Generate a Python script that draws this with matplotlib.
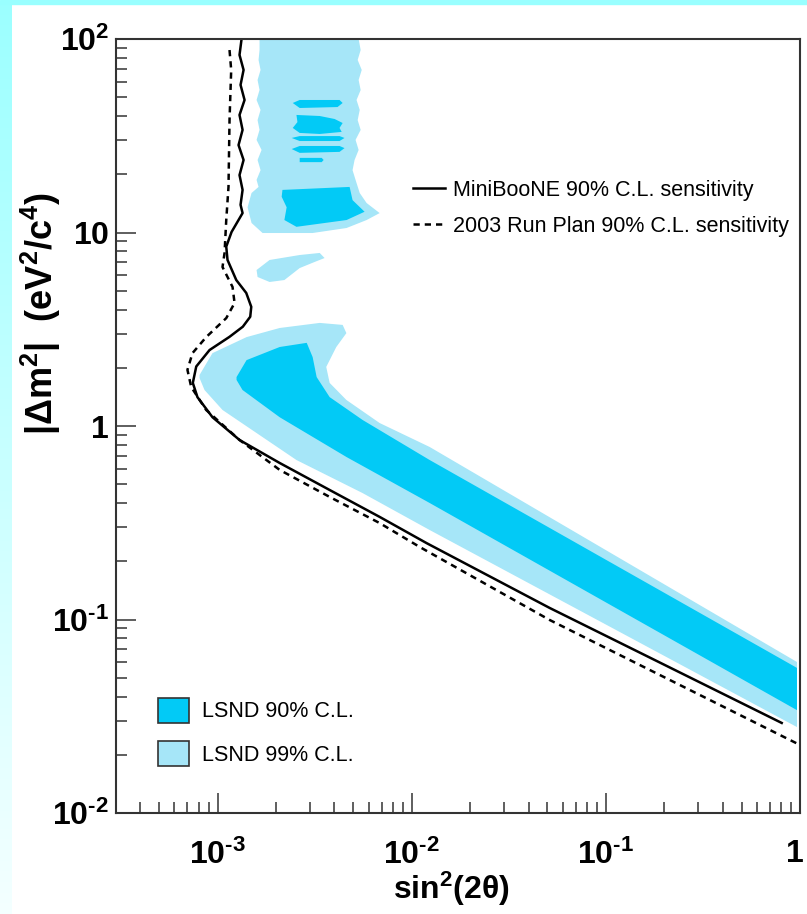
import numpy as np
import matplotlib.pyplot as plt
import matplotlib.transforms as mtransforms
from matplotlib.colors import LinearSegmentedColormap
from matplotlib.lines import Line2D
from matplotlib.patches import Patch, Rectangle
from matplotlib.ticker import LogLocator, NullFormatter

plt.rcParams['font.family'] = ['Liberation Sans', 'DejaVu Sans']
plt.rcParams['mathtext.fontset'] = 'custom'
plt.rcParams['mathtext.rm'] = 'Liberation Sans'
plt.rcParams['mathtext.bf'] = 'Liberation Sans:bold'
plt.rcParams['mathtext.it'] = 'Liberation Sans:italic'
plt.rcParams['mathtext.default'] = 'bf'

# MiniBooNE 90% C.L. sensitivity (sin^2 2theta, dm^2)
mb_x = [1.330e-3, 1.298e-3, 1.362e-3, 1.314e-3, 1.378e-3, 1.298e-3, 1.346e-3,
        1.283e-3, 1.362e-3, 1.298e-3, 1.346e-3, 1.314e-3, 1.346e-3, 1.181e-3,
        1.109e-3, 1.126e-3, 1.249e-3, 1.406e-3, 1.492e-3, 1.474e-3, 1.350e-3,
        1.153e-3, 9.10e-4, 7.77e-4, 7.46e-4, 7.88e-4, 9.42e-4, 1.30e-3,
        2.09e-3, 3.78e-3, 6.84e-3, 1.195e-2, 5.14e-2, 0.805]
mb_y = [100, 82.7, 69.2, 57.9, 48.4, 40.5, 33.9, 28.3, 23.7, 19.8, 16.6, 13.9,
        12.6, 10.06, 8.45, 7.21, 5.68, 4.87, 4.13, 3.67, 3.26, 2.89, 2.47, 2.03,
        1.67, 1.41, 1.11, 0.846, 0.644, 0.467, 0.339, 0.248, 0.1147, 0.0292]

# 2003 run plan 90% C.L. sensitivity
plan_x = [1.153e-3, 1.176e-3, 1.153e-3, 1.139e-3, 1.109e-3, 1.087e-3, 1.061e-3,
          1.195e-3, 1.224e-3, 1.109e-3, 8.74e-4, 7.43e-4, 7.00e-4, 7.32e-4,
          8.74e-4, 1.30e-3, 2.09e-3, 3.78e-3, 6.84e-3, 1.10e-2, 5.14e-2, 1.0]
plan_y = [87.7, 69.2, 38.1, 17.2, 11.6, 7.84, 6.63, 5.23, 4.32, 3.61, 2.88,
          2.38, 1.95, 1.59, 1.21, 0.846, 0.593, 0.430, 0.315, 0.237, 0.0994,
          0.02246]

# LSND 99% C.L. allowed regions
lsnd99_band_x = [8.08e-4, 9.42e-4, 1.411e-3, 2.09e-3, 3.36e-3, 4.41e-3, 4.61e-3,
                 4.09e-3, 3.63e-3, 3.78e-3, 4.61e-3, 6.84e-3, 1.238e-2, 0.965,
                 0.965, 1.238e-2, 5.59e-3, 2.55e-3, 1.061e-3, 8.57e-4, 8.08e-4]
lsnd99_band_y = [1.835, 2.38, 2.88, 3.21, 3.41, 3.33, 3.02, 2.56, 2.02, 1.67,
                 1.363, 1.036, 0.779, 0.0603, 0.0278, 0.290, 0.450, 0.667, 1.21,
                 1.535, 1.77]

lsnd99_island_x = [1.589e-3, 1.854e-3, 2.65e-3, 3.36e-3, 3.56e-3, 3.16e-3,
                   2.65e-3, 2.21e-3, 1.854e-3, 1.608e-3]
lsnd99_island_y = [6.40, 7.21, 7.65, 7.84, 7.38, 7.04, 6.55, 5.68, 5.55, 5.89]

lsnd99_high_x = [1.646e-3, 5.33e-3, 5.46e-3, 5.27e-3, 5.53e-3, 5.33e-3, 5.46e-3,
                 5.20e-3, 5.40e-3, 5.27e-3, 5.46e-3, 5.14e-3, 5.33e-3, 5.08e-3,
                 4.96e-3, 5.14e-3, 5.40e-3, 5.86e-3, 6.84e-3, 5.86e-3, 4.62e-3,
                 3.09e-3, 1.706e-3, 1.497e-3, 1.428e-3, 1.497e-3, 1.627e-3,
                 1.589e-3, 1.666e-3, 1.608e-3, 1.686e-3, 1.589e-3, 1.646e-3,
                 1.608e-3, 1.666e-3, 1.589e-3, 1.646e-3, 1.608e-3, 1.666e-3,
                 1.627e-3, 1.646e-3]
lsnd99_high_y = [100, 100, 87.7, 77.9, 69.2, 61.4, 54.5, 48.4, 43.0, 38.1, 33.9,
                 30.1, 26.7, 23.7, 21.0, 18.7, 16.0, 14.2, 12.6, 11.6, 10.55,
                 9.94, 9.94, 11.2, 13.5, 16.0, 17.2, 18.7, 21.0, 23.7, 26.7,
                 30.1, 33.9, 38.1, 43.0, 48.4, 54.5, 61.4, 69.2, 77.9, 87.7]

# LSND 90% C.L. allowed regions
lsnd90_band_x = [1.253e-3, 1.411e-3, 2.09e-3, 2.88e-3, 3.09e-3, 3.24e-3, 3.78e-3,
                 5.59e-3, 1.238e-2, 0.965, 0.965, 1.238e-2, 4.62e-3, 2.09e-3,
                 1.345e-3, 1.253e-3]
lsnd90_band_y = [1.79, 2.19, 2.56, 2.69, 2.27, 1.79, 1.41, 1.074, 0.667, 0.0562,
                 0.0340, 0.400, 0.691, 1.11, 1.535, 1.73]

lsnd90_blob_x = [2.16e-3, 4.79e-3, 4.96e-3, 5.72e-3, 4.62e-3, 2.55e-3, 2.21e-3,
                 2.27e-3, 2.14e-3]
lsnd90_blob_y = [16.6, 17.2, 14.7, 12.8, 11.6, 10.7, 11.6, 13.5, 15.3]

lsnd90_strips = [
    ([2.44e-3, 2.65e-3, 4.25e-3, 4.41e-3, 4.15e-3, 2.65e-3],
     [46.7, 48.4, 48.4, 46.7, 44.5, 44.0]),
    ([2.55e-3, 3.36e-3, 4.01e-3, 4.41e-3, 4.25e-3, 4.36e-3, 3.36e-3, 2.65e-3,
      2.44e-3, 2.58e-3],
     [40.5, 40.0, 38.6, 36.8, 34.7, 33.1, 32.3, 32.7, 34.7, 37.2]),
    ([2.41e-3, 2.65e-3, 4.25e-3, 4.51e-3, 4.25e-3, 2.65e-3],
     [30.8, 31.5, 31.5, 30.8, 29.7, 29.7]),
    ([2.41e-3, 2.65e-3, 4.25e-3, 4.51e-3, 4.25e-3, 2.65e-3],
     [27.0, 28.0, 28.0, 27.3, 26.1, 25.8]),
    ([2.65e-3, 3.44e-3, 3.52e-3, 3.44e-3, 2.65e-3],
     [24.3, 24.3, 23.7, 23.1, 23.1]),
]

x_ticks = [1e-3, 1e-2, 1e-1, 1]
x_ticklabels = [r'$10^{‐3}$', r'$10^{‐2}$', r'$10^{‐1}$', r'$1$']
y_ticks = [1e-2, 1e-1, 1, 10, 100]
y_ticklabels = [r'$10^{‐2}$', r'$10^{‐1}$', r'$1$', r'$10$', r'$10^{2}$']

c90 = '#02CAF6'
c99 = '#A6E6F8'

fig = plt.figure(figsize=(8.07, 9.14), dpi=100)
fig.patch.set_facecolor('white')

# slide decoration: cyan strip on top, fading strip on the left
fig.patches.append(Rectangle((0, 1 - 4 / 914), 1, 4 / 914, transform=fig.transFigure,
                             color='#99FFFF', zorder=0))
side = fig.add_axes([0, 0, 12 / 807, 1 - 4 / 914])
side.imshow(np.linspace(0, 1, 256)[:, None], aspect='auto',
            cmap=LinearSegmentedColormap.from_list('side', ['#9CFFFF', '#F4FFFF']))
side.set_axis_off()

ax = fig.add_axes([116 / 807, 1 - 813 / 914, 684 / 807, 774 / 914])
ax.set_xscale('log')
ax.set_yscale('log')
ax.set_xlim(3e-4, 1)
ax.set_ylim(1e-2, 1e2)

ax.fill(lsnd99_band_x, lsnd99_band_y, color=c99, lw=0)
ax.fill(lsnd99_island_x, lsnd99_island_y, color=c99, lw=0)
ax.fill(lsnd99_high_x, lsnd99_high_y, color=c99, lw=0)
ax.fill(lsnd90_band_x, lsnd90_band_y, color=c90, lw=0)
ax.fill(lsnd90_blob_x, lsnd90_blob_y, color=c90, lw=0)
for sx, sy in lsnd90_strips:
    ax.fill(sx, sy, color=c90, lw=0)

ax.plot(mb_x, mb_y, color='black', lw=1.8)
ax.plot(plan_x, plan_y, color='black', lw=1.8, ls=(0, (2.5, 2)))

ax.set_xticks(x_ticks)
ax.set_xticklabels(x_ticklabels)
ax.set_yticks(y_ticks)
ax.set_yticklabels(y_ticklabels)
ax.xaxis.set_minor_locator(LogLocator(base=10, subs=np.arange(2, 10), numticks=20))
ax.yaxis.set_minor_locator(LogLocator(base=10, subs=np.arange(2, 10), numticks=20))
ax.xaxis.set_minor_formatter(NullFormatter())
ax.yaxis.set_minor_formatter(NullFormatter())
ax.tick_params(which='both', direction='in', colors='#333333', width=1.1,
               labelsize=23, labelcolor='black')
ax.tick_params(which='major', length=14.5)
ax.tick_params(which='minor', length=8)
ax.tick_params(axis='x', pad=19)
ax.tick_params(axis='y', pad=5)
for s in ax.spines.values():
    s.set_color('#333333')
    s.set_linewidth(1.5)

# keep the "1" at the right end inside the canvas
last = ax.get_xticklabels()[-1]
last.set_transform(last.get_transform() +
                   mtransforms.ScaledTranslation(-4 / 72, 0, fig.dpi_scale_trans))

ax.set_xlabel(r'$sin^{2}(2\theta)$', fontsize=23)
ax.xaxis.set_label_coords(0.49, -0.073)
ax.set_ylabel(r'$|\Delta m^{2}|\ \ (eV^{2}/c^{4})$', fontsize=26)
ax.yaxis.set_label_coords(-0.078, 0.645)

line_handles = [Line2D([], [], color='black', lw=1.8),
                Line2D([], [], color='black', lw=1.8, ls=(0, (2.5, 2)))]
leg1 = ax.legend(line_handles,
                 ['MiniBooNE 90% C.L. sensitivity',
                  '2003 Run Plan 90% C.L. sensitivity'],
                 loc='upper left', bbox_to_anchor=(0.434, 0.818), frameon=False,
                 fontsize=15.5, handlelength=1.5, handletextpad=0.35,
                 labelspacing=0.7, borderpad=0, borderaxespad=0)
ax.add_artist(leg1)

patch_handles = [Patch(facecolor=c90, edgecolor='#333333', lw=1.2),
                 Patch(facecolor=c99, edgecolor='#333333', lw=1.2)]
ax.legend(patch_handles, ['LSND 90% C.L.', 'LSND 99% C.L.'],
          loc='upper left', bbox_to_anchor=(0.0614, 0.149), frameon=False,
          fontsize=15.5, handlelength=1.45, handleheight=1.4, handletextpad=0.6,
          labelspacing=0.88, borderpad=0, borderaxespad=0)

fig.savefig('out.png', dpi=100)
